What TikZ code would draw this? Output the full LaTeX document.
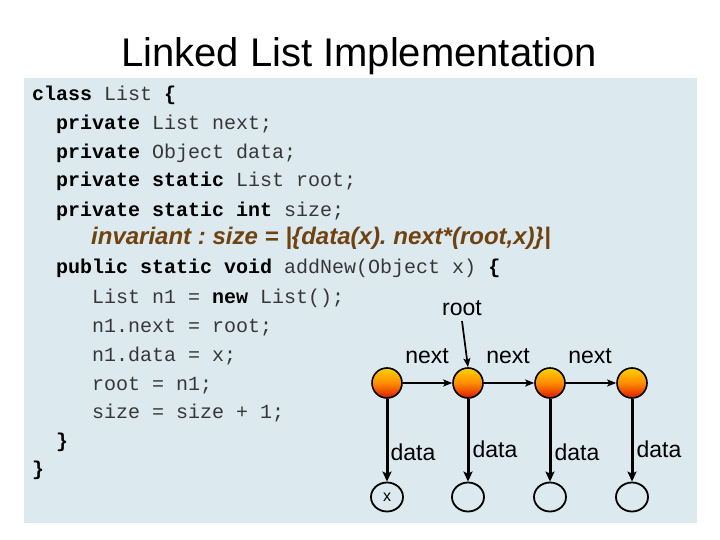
\documentclass[tikz,border=0pt]{standalone}
\usepackage{fontspec}
\setmainfont{Liberation Sans}
\newfontfamily\codefont{Liberation Mono}
\usetikzlibrary{arrows.meta,shadings,shapes.geometric}
\definecolor{panel}{RGB}{220,233,238}
\definecolor{invcol}{RGB}{112,66,16}
\definecolor{ballTop}{RGB}{255,210,0}
\definecolor{ballMid}{RGB}{255,140,0}
\definecolor{ballBot}{RGB}{220,25,0}
\definecolor{codegray}{RGB}{55,55,55}
\tikzset{
  codeline/.style={anchor=base west,inner sep=0pt,font=\codefont\fontsize{20}{20}\selectfont,text=codegray},
  lbl/.style={inner sep=0pt,font=\fontsize{23}{23}\selectfont},
  ball/.style={circle,draw=black,line width=1.6pt,minimum size=30pt,inner sep=0pt,top color=ballTop,bottom color=ballBot,middle color=ballMid},
  datanode/.style={ellipse,draw=black,line width=1.8pt,minimum width=32pt,minimum height=29pt,inner sep=0pt,font=\fontsize{16}{16}\selectfont},
  nextarrow/.style={-{Stealth[length=9pt,width=7pt,inset=2pt]},line width=1.7pt},
  dataarrow/.style={-{Stealth[length=10pt,width=9pt,inset=2pt]},line width=3pt},
}
\newcommand{\kwd}[1]{\textcolor{black}{\textbf{#1}}}
\begin{document}
\begin{tikzpicture}[x=1pt,y=-1pt]
\useasboundingbox (0,0) rectangle (720,540);
\fill[white] (0,0) rectangle (720,540);
\fill[panel] (24,78) rectangle (697,523);
\node[anchor=base,inner sep=0pt,font=\fontsize{40}{40}\selectfont] (title) at (359,67) {Linked List Implementation};
% code
\node[codeline] (l1) at (32,101) {\kwd{class} List \kwd{\{}};
\node[codeline] (l2) at (56,130) {\kwd{private} List next;};
\node[codeline] (l3) at (56,158.5) {\kwd{private} Object data;};
\node[codeline] (l4) at (56,187) {\kwd{private static} List root;};
\node[codeline] (l5) at (56,216) {\kwd{private static int} size;};
\node[anchor=base west,inner sep=0pt,font=\frenchspacing\fontsize{24}{24}\selectfont\bfseries\itshape,text=invcol] (inv) at (91,244) {invariant : size = |\{data(x). next*(root,x)\}|};
\node[codeline] (l6) at (56,273) {\kwd{public static void} addNew(Object x) \kwd{\{}};
\node[codeline] (l7) at (92,303) {List n1 = \kwd{new} List();};
\node[codeline] (l8) at (92,332) {n1.next = root;};
\node[codeline] (l9) at (92,361) {n1.data = x;};
\node[codeline] (l10) at (92,390) {root = n1;};
\node[codeline] (l11) at (92,418) {size = size + 1;};
\node[codeline] (l12) at (56,447) {\kwd{\}}};
\node[codeline] (l13) at (32,475) {\kwd{\}}};
% list diagram
\node[ball] (b1) at (387,383) {};
\node[ball] (b2) at (468,383) {};
\node[ball] (b3) at (550,383) {};
\node[ball] (b4) at (632,383) {};
\node[datanode] (d1) at (387,497) {x};
\node[datanode] (d2) at (468,497) {};
\node[datanode] (d3) at (550,497) {};
\node[datanode] (d4) at (632,497) {};
\draw[nextarrow] (b1) -- (b2);
\draw[nextarrow] (b2) -- (b3);
\draw[nextarrow] (b3) -- (b4);
\draw[dataarrow] (b1) -- (d1);
\draw[dataarrow] (b2) -- (d2);
\draw[dataarrow] (b3) -- (d3);
\draw[dataarrow] (b4) -- (d4);
\node[lbl] (root) at (462,308) {root};
\node[lbl] (n1) at (427,356) {next};
\node[lbl] (n2) at (508,356) {next};
\node[lbl] (n3) at (590,356) {next};
\node[lbl] (t1) at (413,452) {data};
\node[lbl] (t2) at (495,449) {data};
\node[lbl] (t3) at (577,452) {data};
\node[lbl] (t4) at (659,449) {data};
\coordinate (rs) at (462,321);
\draw[nextarrow] (rs) -- (b2.north);
\end{tikzpicture}
\end{document}
